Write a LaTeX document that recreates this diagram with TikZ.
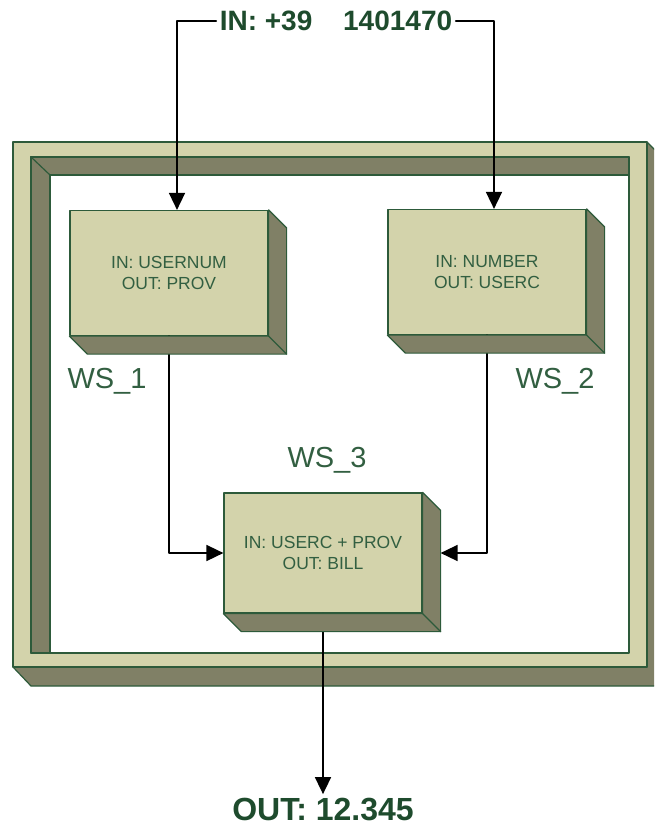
\documentclass[tikz,border=0pt]{standalone}
\usepackage{fontspec}
\setmainfont{Liberation Sans}
\usetikzlibrary{arrows.meta, positioning, calc}
\definecolor{WSface}{RGB}{211, 211, 171}
\definecolor{WSside}{RGB}{128, 128, 102}
\definecolor{WSedge}{RGB}{45, 90, 58}
\definecolor{WStext}{RGB}{50, 95, 65}
\definecolor{WStitle}{RGB}{30, 75, 45}
\tikzset{>={Triangle[length=17pt, width=16pt]}}
\tikzset{
    wsbox/.style={draw=WSedge, fill=WSface, line width=1.2pt, minimum width=198pt, minimum height=125pt,
        align=center, text=WStext, font=\fontsize{17.5}{21}\selectfont},
    wslabel/.style={text=WStext, font=\fontsize{29}{32}\selectfont},
    iolabel/.style={text=WStitle, font=\bfseries\fontsize{28}{30}\selectfont},
    wire/.style={line width=1.6pt, ->},
    shade3d/.style={fill=WSside, draw=WSedge, line width=1.2pt}
}
% depth of a box, down and to the right
\newcommand{\wsdepth}[1]{%
    \filldraw[shade3d] (#1.north east) -- ++(18,18) -- ($(#1.south east)+(18,18)$)
        -- ($(#1.south west)+(18,18)$) -- (#1.south west) -- (#1.south east) -- cycle;
    \draw[WSedge, line width=1.2pt] (#1.south east) -- ++(18,18);
}

\begin{document}
\begin{tikzpicture}[x=1pt, y=-1pt, line cap=round, line join=round]
    \clip (0,0) rectangle (654,827);

    % frame
    \filldraw[shade3d] (13,667) -- (31,686) -- (670,686) -- (670,165) -- (647,142) -- (647,667) -- cycle;
    \filldraw[WSface, draw=WSedge, line width=1.2pt, even odd rule]
        (13,142) rectangle (647,667) (31,157) rectangle (629,653);
    \filldraw[shade3d] (31,157) -- (629,157) -- (629,175) -- (50,175) -- (50,653) -- (31,653) -- cycle;
    \draw[WSedge, line width=1.2pt] (31,157) -- (50,175);

    % services
    \node[wsbox] (ws1) at (169,273) {IN: USERNUM\\OUT: PROV};
    \node[wsbox] (ws2) at (487,272) {IN: NUMBER\\OUT: USERC};
    \node[wsbox, minimum height=120pt] (ws3) at (323,553) {IN: USERC + PROV\\OUT: BILL};

    \node[wslabel] (lab1) at (107,381) {WS\_1};
    \node[wslabel] (lab2) at (555,381) {WS\_2};
    \node[wslabel] (lab3) at (327,460) {WS\_3};

    % input and output
    \node[iolabel] (in) at (336,21) {IN: +39\hspace{1.1em}1401470};
    \node[iolabel, font=\bfseries\fontsize{32}{34}\selectfont] (out) at (323,809) {OUT: 12.345};

    \draw[wire] (in.west) -| ([xshift=8pt]ws1.north);
    \draw[wire] (in.east) -| ([xshift=7pt]ws2.north);
    \draw[wire] (ws1.south) |- (ws3.west);
    \draw[wire] (ws2.south) |- ($(ws3.east)+(18,0)$);
    \draw[wire] (ws3.south) -- (out.north);

    \wsdepth{ws1}
    \wsdepth{ws2}
    \wsdepth{ws3}
\end{tikzpicture}
\end{document}
